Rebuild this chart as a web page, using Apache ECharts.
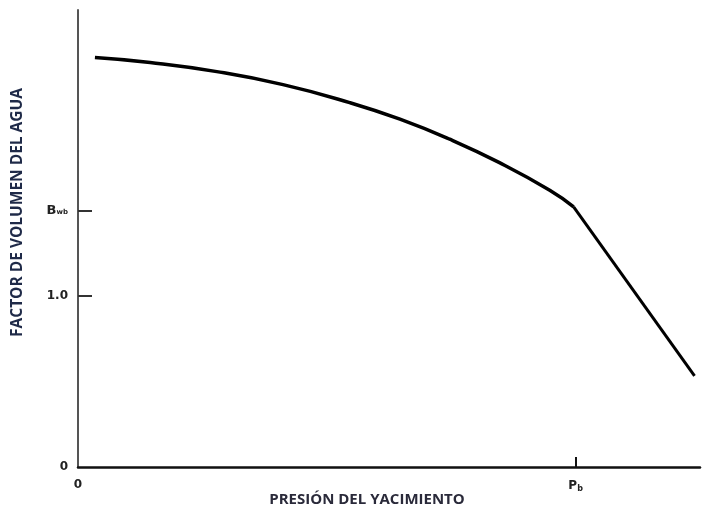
<!DOCTYPE html>
<html>
<head>
<meta charset="utf-8">
<script src="https://cdn.jsdelivr.net/npm/echarts@6/dist/echarts.min.js"></script>
<style>
  html, body { margin: 0; padding: 0; background: #fff; }
  #chart { width: 710px; height: 509px; }
</style>
</head>
<body>
<div id="chart"></div>
<script>
// pressure scaled so that Pb = 1
const pressureAbove = [0.034, 0.145, 0.279, 0.412, 0.546, 0.647, 0.747, 0.847, 0.948, 0.996]
const bwAbove = [2.392, 2.363, 2.310, 2.234, 2.129, 2.032, 1.915, 1.778, 1.617, 1.520]
const pressureBelow = [0.996, 1.239]
const bwBelow = [1.520, 0.532]

const yTicks = [0, 1.0, 1.5]
const xTicks = [0, 1.0]

const chart = echarts.init(document.getElementById("chart"))

const toPairs = (xs, ys) => xs.map((x, i) => [x, ys[i]])

chart.setOption({
  animation: false,
  grid: { left: 78, right: 10, top: 10, bottom: 42, outerBoundsMode: "none" },
  xAxis: {
    type: "value",
    min: 0,
    max: 1.25,
    name: "PRESIÓN DEL YACIMIENTO",
    nameLocation: "center",
    nameGap: 25,
    nameMoveOverlap: false,
    nameTextStyle: { color: "#2a2a3a", fontSize: 15, fontWeight: "bold", fontFamily: "Open Sans", padding: [0, 44, 0, 0] },
    splitLine: { show: false },
    axisLine: { lineStyle: { color: "#111", width: 2.5 } },
    axisTick: { inside: true, length: 10, customValues: [1.0], lineStyle: { color: "#111", width: 2 } },
    axisLabel: {
      customValues: xTicks,
      margin: 12,
      color: "#222",
      fontWeight: "bold",
      fontSize: 12,
      fontFamily: "DejaVu Sans",
      formatter: (v) => (v === 0 ? "0" : "{m|P}{s|b}"),
      rich: {
        m: { fontSize: 12, fontWeight: "bold", color: "#222", fontFamily: "DejaVu Sans" },
        s: { fontSize: 8, fontWeight: "bold", color: "#222", fontFamily: "DejaVu Sans", padding: [6, 0, 0, 0] }
      }
    }
  },
  yAxis: {
    type: "value",
    min: 0,
    max: 2.67,
    name: "FACTOR DE VOLUMEN DEL AGUA",
    nameLocation: "center",
    nameGap: 52,
    nameRotate: 90,
    nameMoveOverlap: false,
    nameTextStyle: { color: "#1f2a48", fontSize: 15.5, fontWeight: "bold", fontFamily: "Open Sans", padding: [0, 0, 0, 52] },
    splitLine: { show: false },
    axisLine: { lineStyle: { color: "#555", width: 2 } },
    axisTick: { inside: true, length: 14, customValues: [1.0, 1.5], lineStyle: { color: "#333", width: 2 } },
    axisLabel: {
      customValues: yTicks,
      margin: 10,
      color: "#222",
      fontWeight: "bold",
      fontSize: 12,
      fontFamily: "DejaVu Sans",
      formatter: (v) => (v === 0 ? "0" : v === 1 ? "1.0" : "{m|B}{s|wb}"),
      rich: {
        m: { fontSize: 13, fontWeight: "bold", color: "#222", fontFamily: "DejaVu Sans" },
        s: { fontSize: 7, fontWeight: "bold", color: "#222", fontFamily: "DejaVu Sans", padding: [4, 0, 0, 0] }
      }
    }
  },
  series: [
    {
      type: "line",
      data: toPairs(pressureAbove, bwAbove),
      smooth: 0.5,
      showSymbol: false,
      lineStyle: { color: "#000", width: 3.5 }
    },
    {
      type: "line",
      data: toPairs(pressureBelow, bwBelow),
      showSymbol: false,
      lineStyle: { color: "#000", width: 3 }
    }
  ]
})
</script>
</body>
</html>
